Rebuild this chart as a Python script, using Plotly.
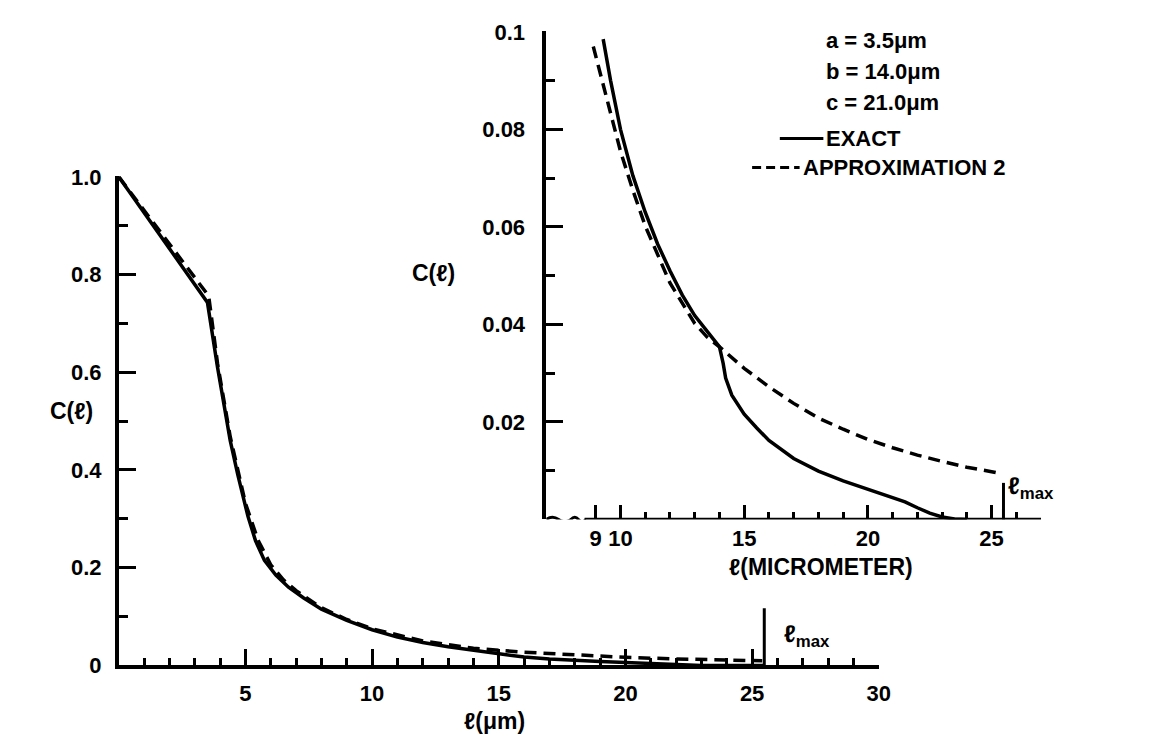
import plotly.graph_objects as go

W, H = 1156, 748

# ---------------- data ----------------
# main panel, exact C(l)
main_exact_x = [0, 3.5, 3.9, 4.4, 4.7, 5.1, 5.4, 5.75, 6.2, 6.7, 7.3, 8.0, 9.0, 10.0,
                11.0, 12.0, 13.0, 14.0, 15.0, 16.0, 17.0, 18.0, 19.0, 20.0, 21.0, 22.0, 23.0, 25.48]
main_exact_c = [1.0, 0.743, 0.61, 0.46, 0.39, 0.305, 0.255, 0.215, 0.185, 0.16, 0.138, 0.115, 0.092, 0.073,
                0.058, 0.047, 0.038, 0.031, 0.023, 0.017, 0.013, 0.010, 0.008, 0.006, 0.0045, 0.002, 0.0, 0.0]
# main panel, approximation 2
main_appr_x = [0, 3.55, 3.9, 4.4, 5.0, 5.5, 6.0, 6.5, 7.0, 8.0, 9.0, 10.0, 12.0, 14.0,
               16.0, 18.0, 20.0, 22.0, 24.0, 25.4]
main_appr_c = [1.0, 0.756, 0.618, 0.468, 0.332, 0.256, 0.206, 0.175, 0.153, 0.118, 0.094, 0.075, 0.050, 0.035,
               0.027, 0.021, 0.0165, 0.0132, 0.0107, 0.0095]

# inset panel, exact C(l)
ins_exact_x = [9.3, 9.6, 10.0, 10.5, 11.0, 11.5, 12.0, 12.5, 13.0, 13.5, 14.0, 14.15, 14.25, 14.5,
               15.0, 15.5, 16.0, 17.0, 18.0, 19.0, 20.0, 21.0, 21.5, 22.0, 22.5, 23.0, 23.5, 24.0]
ins_exact_c = [0.0985, 0.090, 0.080, 0.0705, 0.063, 0.0565, 0.051, 0.046, 0.0418, 0.0385, 0.0354, 0.032, 0.029, 0.0255,
               0.0216, 0.0188, 0.0162, 0.0125, 0.0099, 0.0079, 0.0062, 0.0046, 0.0036, 0.0024, 0.0013, 0.0005, 0.0001, 0.0]
# inset panel, approximation 2
ins_appr_x = [8.9, 9.5, 10.0, 10.5, 11.0, 12.0, 13.0, 13.5, 14.0, 15.0, 16.0, 17.0, 18.0, 19.0, 20.0,
              21.0, 22.0, 23.0, 24.0, 25.0, 25.4]
ins_appr_c = [0.097, 0.085, 0.0755, 0.0675, 0.0602, 0.0485, 0.0402, 0.0374, 0.0354, 0.031, 0.0272, 0.0238, 0.0208, 0.0185, 0.0164,
              0.0147, 0.0132, 0.0119, 0.0107, 0.0098, 0.0094]

l_max = 25.48
main_lmax_height = 0.117
ins_lmax_height = 0.0075

main_x_ticks = [5, 10, 15, 20, 25, 30]
main_y_ticks = [0, 0.2, 0.4, 0.6, 0.8, 1.0]
main_y_text = ["0", "0.2", "0.4", "0.6", "0.8", "1.0"]
ins_x_ticks = [9, 10, 15, 20, 25]
ins_y_ticks = [0.02, 0.04, 0.06, 0.08, 0.1]
ins_y_text = ["0.02", "0.04", "0.06", "0.08", "0.1"]

legend_params = ["a = 3.5μm", "b = 14.0μm", "c = 21.0μm"]
series_names = ["EXACT", "APPROXIMATION 2"]

# ---------------- figure ----------------
FONT = "Liberation Sans"
BLK = "black"
LW = 3.5
DASH = "12px,7px"
FS = 22

fig = go.Figure()

fig.add_trace(go.Scatter(x=main_exact_x, y=main_exact_c, mode="lines",
                         line=dict(color=BLK, width=LW), xaxis="x", yaxis="y", showlegend=False))
fig.add_trace(go.Scatter(x=main_appr_x, y=main_appr_c, mode="lines",
                         line=dict(color=BLK, width=LW, dash=DASH), xaxis="x", yaxis="y", showlegend=False))
fig.add_trace(go.Scatter(x=[l_max, l_max], y=[0, main_lmax_height], mode="lines",
                         line=dict(color=BLK, width=3), xaxis="x", yaxis="y", showlegend=False))

fig.add_trace(go.Scatter(x=ins_exact_x, y=ins_exact_c, mode="lines",
                         line=dict(color=BLK, width=LW), xaxis="x2", yaxis="y2", showlegend=False))
fig.add_trace(go.Scatter(x=ins_appr_x, y=ins_appr_c, mode="lines",
                         line=dict(color=BLK, width=LW, dash=DASH), xaxis="x2", yaxis="y2", showlegend=False))
fig.add_trace(go.Scatter(x=[l_max, l_max], y=[0, ins_lmax_height], mode="lines",
                         line=dict(color=BLK, width=3), xaxis="x2", yaxis="y2", showlegend=False))

tickfont = dict(family=FONT, size=FS, color=BLK, weight="bold")

axis_common = dict(showline=True, linecolor=BLK, linewidth=3.5, ticks="inside", tickwidth=3,
                   tickcolor=BLK, showgrid=False, zeroline=False, tickfont=tickfont)

fig.update_layout(
    width=W, height=H,
    margin=dict(l=0, r=0, t=0, b=0),
    paper_bgcolor="white", plot_bgcolor="rgba(0,0,0,0)",
    showlegend=False,
    xaxis=dict(domain=[120 / W, 888 / W], range=[0, 30], anchor="y",
               tickmode="array", tickvals=main_x_ticks, ticklen=17, ticklabelstandoff=5,
               minor=dict(ticks="inside", ticklen=8, tickwidth=3, tickcolor=BLK, dtick=1, tick0=0),
               **axis_common),
    yaxis=dict(domain=[1 - 676 / H, 1 - 170 / H], range=[0, 1.001], anchor="x",
               tickmode="array", tickvals=main_y_ticks, ticktext=main_y_text, ticklen=17,
               ticklabelstandoff=9,
               minor=dict(ticks="inside", ticklen=9, tickwidth=3, tickcolor=BLK, dtick=0.1, tick0=0),
               **axis_common),
    xaxis2=dict(domain=[552 / W, 1052 / W], range=[7, 27], anchor="y2",
                tickmode="array", tickvals=ins_x_ticks, ticklen=14, ticklabelstandoff=4,
                minor=dict(ticks="inside", ticklen=7, tickwidth=2.5, tickcolor=BLK,
                           tickmode="array", tickvals=list(range(9, 28))),
                **{**axis_common, "showline": False}),
    yaxis2=dict(domain=[1 - 525 / H, 1 - 20 / H], range=[0, 0.1001], anchor="x2",
                tickmode="array", tickvals=ins_y_ticks, ticktext=ins_y_text, ticklen=17,
                ticklabelstandoff=13,
                minor=dict(ticks="inside", ticklen=9, tickwidth=3, tickcolor=BLK, dtick=0.01, tick0=0),
                **axis_common),
)

# inset x-axis line with a wavy break near its start
shapes = [
    dict(type="line", xref="x2", yref="y2", x0=8.55, x1=27, y0=0, y1=0,
         line=dict(color=BLK, width=3.5)),
    dict(type="path", xref="x2", yref="y2",
         path="M 7,0 Q 7.25,0.0009 7.5,0 T 8.0,0 Q 8.15,0.0009 8.3,0 T 8.6,0",
         line=dict(color=BLK, width=3)),
]

# legend samples
shapes.append(dict(type="line", xref="paper", yref="paper",
                   x0=788 / W, x1=832 / W, y0=1 - 131 / H, y1=1 - 131 / H,
                   line=dict(color=BLK, width=3)))
shapes.append(dict(type="line", xref="paper", yref="paper",
                   x0=760 / W, x1=808 / W, y0=1 - 161 / H, y1=1 - 161 / H,
                   line=dict(color=BLK, width=3, dash="9px,5px")))
fig.update_layout(shapes=shapes)

ann = []
def text(x, y, s, size=FS, xanchor="center"):
    ann.append(dict(x=x / W, y=1 - y / H, xref="paper", yref="paper", text=s, showarrow=False,
                    xanchor=xanchor, yanchor="middle",
                    font=dict(family=FONT, size=size, color=BLK, weight="bold")))

text(72, 413, "C(ℓ)", size=23)
text(500, 733, "ℓ(μm)", size=23)
text(438, 270, "C(ℓ)", size=23)
text(830, 574, "ℓ(MICROMETER)", size=23)
text(790, 645, "ℓ<sub>max</sub>", size=24, xanchor="left")
text(1017, 492, "ℓ<sub>max</sub>", size=24, xanchor="left")
for i, s in enumerate(legend_params):
    text(833, 30 + i * 32, s, xanchor="left")
text(833, 131, series_names[0], xanchor="left")
text(809, 161, series_names[1], xanchor="left")
fig.update_layout(annotations=ann)

fig.write_html("out.html")
